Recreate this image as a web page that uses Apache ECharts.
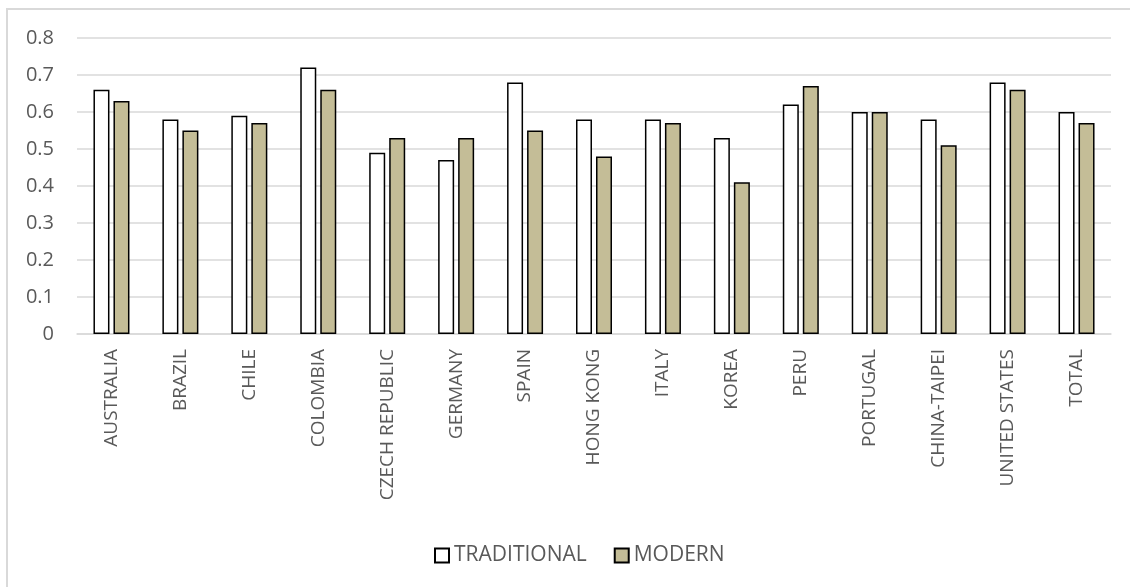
<!DOCTYPE html>
<html>
<head>
<meta charset="utf-8">
<script src="https://cdn.jsdelivr.net/npm/echarts@6/dist/echarts.min.js"></script>
<style>
  html, body { margin: 0; padding: 0; background: #fff; overflow: hidden; }
  #chart { width: 1130px; height: 587px; }
  #frame { position: absolute; left: 6px; top: 8px; width: 1140px; height: 600px; border: 2px solid #d9d9d9; box-sizing: border-box; pointer-events: none; }
</style>
</head>
<body>
<div id="chart"></div>
<div id="frame"></div>
<script>
const categories = ['AUSTRALIA', 'BRAZIL', 'CHILE', 'COLOMBIA', 'CZECH REPUBLIC', 'GERMANY', 'SPAIN',
  'HONG KONG', 'ITALY', 'KOREA', 'PERU', 'PORTUGAL', 'CHINA-TAIPEI', 'UNITED STATES', 'TOTAL'];
const traditional = [0.66, 0.58, 0.59, 0.72, 0.49, 0.47, 0.68, 0.58, 0.58, 0.53, 0.62, 0.60, 0.58, 0.68, 0.60];
const modern = [0.63, 0.55, 0.57, 0.66, 0.53, 0.53, 0.55, 0.48, 0.57, 0.41, 0.67, 0.60, 0.51, 0.66, 0.57];
const seriesNames = ['TRADITIONAL', 'MODERN'];

const textColor = '#595959';
const font = 'Open Sans, Liberation Sans, sans-serif';

const chart = echarts.init(document.getElementById('chart'));
chart.setOption({
  animation: false,
  grid: { left: 77, right: 19, top: 38, bottom: 253, containLabel: false },
  legend: {
    top: 540,
    left: 429,
    itemWidth: 14,
    itemHeight: 14,
    itemGap: 27,
    icon: 'rect',
    textStyle: { color: textColor, fontSize: 21, fontFamily: font },
    data: seriesNames
  },
  xAxis: {
    type: 'category',
    data: categories,
    axisLine: { lineStyle: { color: '#d9d9d9', width: 1.5 } },
    axisTick: { show: false },
    axisLabel: {
      rotate: 90,
      interval: 0,
      margin: 15,
      color: textColor,
      fontSize: 19,
      fontFamily: font
    }
  },
  yAxis: {
    type: 'value',
    min: 0,
    max: 0.8,
    interval: 0.1,
    axisLine: { show: false },
    axisTick: { show: false },
    splitLine: { lineStyle: { color: '#d9d9d9', width: 1.5 } },
    axisLabel: {
      color: textColor,
      fontSize: 20,
      fontFamily: font,
      margin: 23,
      formatter: v => (v === 0 ? '0' : v.toFixed(1))
    }
  },
  series: [
    {
      name: seriesNames[0],
      type: 'bar',
      data: traditional,
      barWidth: 16,
      barGap: '25%',
      itemStyle: { color: '#ffffff', borderColor: '#000000', borderWidth: 1.5 }
    },
    {
      name: seriesNames[1],
      type: 'bar',
      data: modern,
      barWidth: 16,
      itemStyle: { color: '#c4bd97', borderColor: '#000000', borderWidth: 1.5 }
    }
  ]
});
</script>
</body>
</html>
